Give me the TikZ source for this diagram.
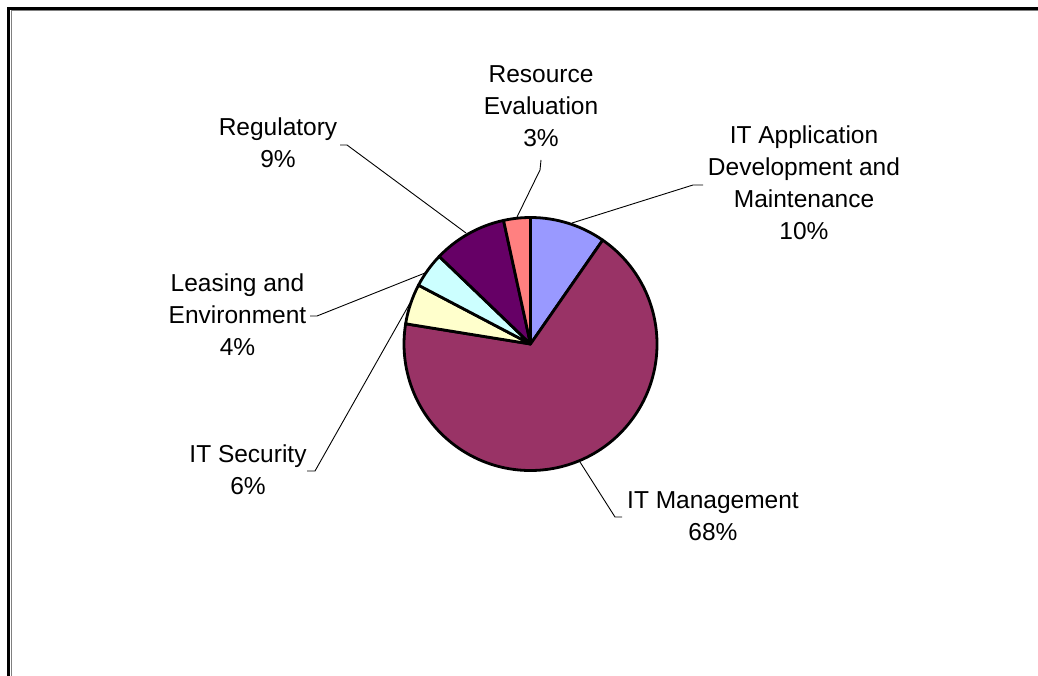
\documentclass[tikz,border=0pt]{standalone}
\usepackage{fontspec}
\setmainfont{Liberation Sans}
\definecolor{appc}{HTML}{9999FF}
\definecolor{mgmtc}{HTML}{993366}
\definecolor{secc}{HTML}{FFFFCC}
\definecolor{leasc}{HTML}{CCFFFF}
\definecolor{regc}{HTML}{660066}
\definecolor{resc}{HTML}{FF8080}
\begin{document}
\begin{tikzpicture}[x=1pt,y=-1pt,
  slice/.style={draw=black,line width=2.8pt,line join=round},
  leader/.style={draw=black,line width=0.9pt},
  lbl/.style={align=center,inner sep=0pt,font=\fontsize{24.5}{32}\selectfont}]
\useasboundingbox (0,0) rectangle (1038,676);
\clip (0,0) rectangle (1038,676);
% frame (cropped at right and bottom)
\draw[line width=3pt] (8.7,700) -- (8.7,8.7) -- (1060,8.7);
\draw[line width=1pt,gray] (11,700) -- (11,11) -- (1060,11);
% pie
\begin{scope}[shift={(530.5,344)},y=1pt]
  \def\r{126.5}
  \filldraw[slice,fill=appc] (0,0) -- (90:\r) arc[start angle=90,end angle=55.2,radius=\r] -- cycle;
  \filldraw[slice,fill=mgmtc] (0,0) -- (55.2:\r) arc[start angle=55.2,end angle=-189.2,radius=\r] -- cycle;
  \filldraw[slice,fill=secc] (0,0) -- (-189.2:\r) arc[start angle=-189.2,end angle=-207.7,radius=\r] -- cycle;
  \filldraw[slice,fill=leasc] (0,0) -- (-207.7:\r) arc[start angle=-207.7,end angle=-223.8,radius=\r] -- cycle;
  \filldraw[slice,fill=regc] (0,0) -- (-223.8:\r) arc[start angle=-223.8,end angle=-257.7,radius=\r] -- cycle;
  \filldraw[slice,fill=resc] (0,0) -- (-257.7:\r) arc[start angle=-257.7,end angle=-270,radius=\r] -- cycle;
\end{scope}
% labels
\node[lbl] (lres) at (541,106) {Resource\\Evaluation\\3\%};
\node[lbl] (lreg) at (278,142.5) {Regulatory\\9\%};
\node[lbl] (lapp) at (804,182.5) {IT Application\\Development and\\Maintenance\\10\%};
\node[lbl] (llea) at (237.5,315) {Leasing and\\Environment\\4\%};
\node[lbl] (lsec) at (248,470) {IT Security\\6\%};
\node[lbl] (lmgm) at (713,516) {IT Management\\68\%};
% leader coordinates
\coordinate (appA) at (572,223); \coordinate (appB) at (693,185); \coordinate (appC) at (703,185);
\coordinate (resA) at (517,217); \coordinate (resB) at (540,170); \coordinate (resC) at (541,160);
\coordinate (regA) at (466,233); \coordinate (regB) at (347,145); \coordinate (regC) at (340,145);
\coordinate (leaA) at (425,273); \coordinate (leaB) at (317,316); \coordinate (leaC) at (310,316);
\coordinate (secA) at (410,303); \coordinate (secB) at (315,471); \coordinate (secC) at (307,471);
\coordinate (mgmA) at (580,462); \coordinate (mgmB) at (615,517); \coordinate (mgmC) at (622,517);
\draw[leader] (appA) -- (appB) -- (appC);
\draw[leader] (resA) -- (resB) -- (resC);
\draw[leader] (regA) -- (regB) -- (regC);
\draw[leader] (leaA) -- (leaB) -- (leaC);
\draw[leader] (secA) -- (secB) -- (secC);
\draw[leader] (mgmA) -- (mgmB) -- (mgmC);
\end{tikzpicture}
\end{document}
